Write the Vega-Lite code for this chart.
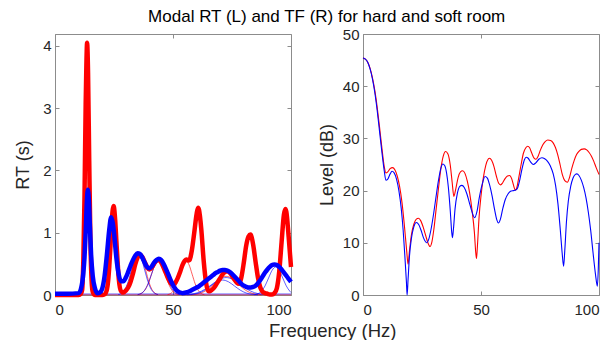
{
  "$schema": "https://vega.github.io/schema/vega-lite/v6.json",
  "background": "white",
  "padding": {"left": 13, "top": 7, "right": 0, "bottom": 0},
  "title": {"text": "Modal RT (L) and TF (R) for hard and soft room", "fontSize": 17, "fontWeight": "normal", "color": "#000000", "font": "Liberation Sans", "anchor": "middle", "offset": 1, "dx": 19},
  "datasets": {
    "thick": [
      {"x":0,"rt":0,"room":"hard"},{"x":5,"rt":0,"room":"hard"},{"x":10,"rt":0,"room":"hard"},{"x":11,"rt":0.02,"room":"hard"},{"x":11.5,"rt":0.08,"room":"hard"},{"x":12,"rt":0.55,"room":"hard"},{"x":12.5,"rt":1.57,"room":"hard"},{"x":13,"rt":3.06,"room":"hard"},{"x":13.3,"rt":3.7,"room":"hard"},{"x":13.6,"rt":4.05,"room":"hard"},{"x":14,"rt":3.57,"room":"hard"},{"x":14.5,"rt":2.15,"room":"hard"},{"x":15,"rt":0.88,"room":"hard"},{"x":15.5,"rt":0.24,"room":"hard"},{"x":16,"rt":0.05,"room":"hard"},{"x":17,"rt":0,"room":"hard"},{"x":18,"rt":0,"room":"hard"},{"x":19,"rt":0,"room":"hard"},{"x":20,"rt":0,"room":"hard"},{"x":21,"rt":0.01,"room":"hard"},{"x":22,"rt":0.09,"room":"hard"},{"x":22.5,"rt":0.22,"room":"hard"},{"x":23,"rt":0.46,"room":"hard"},{"x":23.5,"rt":0.79,"room":"hard"},{"x":24,"rt":1.15,"room":"hard"},{"x":24.8,"rt":1.43,"room":"hard"},{"x":25,"rt":1.41,"room":"hard"},{"x":25.5,"rt":1.2,"room":"hard"},{"x":26,"rt":0.87,"room":"hard"},{"x":26.5,"rt":0.55,"room":"hard"},{"x":27,"rt":0.27,"room":"hard"},{"x":28,"rt":0.06,"room":"hard"},{"x":29,"rt":0.04,"room":"hard"},{"x":30,"rt":0.07,"room":"hard"},{"x":31,"rt":0.12,"room":"hard"},{"x":32,"rt":0.21,"room":"hard"},{"x":33,"rt":0.34,"room":"hard"},{"x":34,"rt":0.49,"room":"hard"},{"x":35,"rt":0.6,"room":"hard"},{"x":36,"rt":0.645,"room":"hard"},{"x":37,"rt":0.61,"room":"hard"},{"x":38,"rt":0.53,"room":"hard"},{"x":39,"rt":0.45,"room":"hard"},{"x":40,"rt":0.41,"room":"hard"},{"x":41,"rt":0.44,"room":"hard"},{"x":42,"rt":0.5,"room":"hard"},{"x":43,"rt":0.55,"room":"hard"},{"x":44,"rt":0.56,"room":"hard"},{"x":45,"rt":0.52,"room":"hard"},{"x":46,"rt":0.44,"room":"hard"},{"x":47,"rt":0.35,"room":"hard"},{"x":48,"rt":0.26,"room":"hard"},{"x":49,"rt":0.19,"room":"hard"},{"x":50,"rt":0.17,"room":"hard"},{"x":51,"rt":0.2,"room":"hard"},{"x":52,"rt":0.27,"room":"hard"},{"x":53,"rt":0.37,"room":"hard"},{"x":54,"rt":0.48,"room":"hard"},{"x":55,"rt":0.55,"room":"hard"},{"x":55.7,"rt":0.57,"room":"hard"},{"x":56.5,"rt":0.555,"room":"hard"},{"x":57,"rt":0.56,"room":"hard"},{"x":57.5,"rt":0.62,"room":"hard"},{"x":58,"rt":0.72,"room":"hard"},{"x":59,"rt":1.0,"room":"hard"},{"x":60,"rt":1.3,"room":"hard"},{"x":60.6,"rt":1.4,"room":"hard"},{"x":61,"rt":1.37,"room":"hard"},{"x":62,"rt":1.05,"room":"hard"},{"x":63,"rt":0.55,"room":"hard"},{"x":64,"rt":0.2,"room":"hard"},{"x":65,"rt":0.06,"room":"hard"},{"x":66,"rt":0.07,"room":"hard"},{"x":67,"rt":0.1,"room":"hard"},{"x":68,"rt":0.15,"room":"hard"},{"x":69,"rt":0.21,"room":"hard"},{"x":70,"rt":0.27,"room":"hard"},{"x":71,"rt":0.33,"room":"hard"},{"x":72,"rt":0.37,"room":"hard"},{"x":73,"rt":0.38,"room":"hard"},{"x":74,"rt":0.36,"room":"hard"},{"x":75,"rt":0.31,"room":"hard"},{"x":76,"rt":0.25,"room":"hard"},{"x":77,"rt":0.2,"room":"hard"},{"x":78,"rt":0.18,"room":"hard"},{"x":79,"rt":0.29,"room":"hard"},{"x":80,"rt":0.52,"room":"hard"},{"x":81,"rt":0.79,"room":"hard"},{"x":82,"rt":0.94,"room":"hard"},{"x":82.8,"rt":0.97,"room":"hard"},{"x":83,"rt":0.965,"room":"hard"},{"x":84,"rt":0.8,"room":"hard"},{"x":85,"rt":0.53,"room":"hard"},{"x":86,"rt":0.28,"room":"hard"},{"x":87,"rt":0.12,"room":"hard"},{"x":88,"rt":0.05,"room":"hard"},{"x":89,"rt":0.03,"room":"hard"},{"x":90,"rt":0.02,"room":"hard"},{"x":91,"rt":0.01,"room":"hard"},{"x":92,"rt":0.01,"room":"hard"},{"x":93,"rt":0.03,"room":"hard"},{"x":94,"rt":0.11,"room":"hard"},{"x":95,"rt":0.37,"room":"hard"},{"x":96,"rt":0.84,"room":"hard"},{"x":97,"rt":1.29,"room":"hard"},{"x":97.6,"rt":1.38,"room":"hard"},{"x":98,"rt":1.34,"room":"hard"},{"x":99,"rt":0.94,"room":"hard"},{"x":100,"rt":0.45,"room":"hard"},
      {"x":0,"rt":0.02,"room":"soft"},{"x":5,"rt":0.02,"room":"soft"},{"x":10,"rt":0.03,"room":"soft"},{"x":11,"rt":0.1,"room":"soft"},{"x":12,"rt":0.35,"room":"soft"},{"x":12.5,"rt":0.6,"room":"soft"},{"x":13,"rt":1.0,"room":"soft"},{"x":13.5,"rt":1.5,"room":"soft"},{"x":13.9,"rt":1.69,"room":"soft"},{"x":14.3,"rt":1.55,"room":"soft"},{"x":14.8,"rt":1.1,"room":"soft"},{"x":15.3,"rt":0.65,"room":"soft"},{"x":16,"rt":0.3,"room":"soft"},{"x":17,"rt":0.1,"room":"soft"},{"x":18,"rt":0.03,"room":"soft"},{"x":19,"rt":0.04,"room":"soft"},{"x":20,"rt":0.1,"room":"soft"},{"x":21,"rt":0.3,"room":"soft"},{"x":22,"rt":0.65,"room":"soft"},{"x":23,"rt":1.05,"room":"soft"},{"x":23.8,"rt":1.25,"room":"soft"},{"x":24.5,"rt":1.15,"room":"soft"},{"x":25,"rt":1.0,"room":"soft"},{"x":26,"rt":0.6,"room":"soft"},{"x":27,"rt":0.33,"room":"soft"},{"x":28,"rt":0.22,"room":"soft"},{"x":29,"rt":0.22,"room":"soft"},{"x":30,"rt":0.28,"room":"soft"},{"x":31,"rt":0.37,"room":"soft"},{"x":32,"rt":0.47,"room":"soft"},{"x":33,"rt":0.56,"room":"soft"},{"x":34,"rt":0.63,"room":"soft"},{"x":35,"rt":0.67,"room":"soft"},{"x":36,"rt":0.66,"room":"soft"},{"x":37,"rt":0.6,"room":"soft"},{"x":38,"rt":0.52,"room":"soft"},{"x":39,"rt":0.45,"room":"soft"},{"x":40,"rt":0.43,"room":"soft"},{"x":41,"rt":0.46,"room":"soft"},{"x":42,"rt":0.52,"room":"soft"},{"x":43,"rt":0.56,"room":"soft"},{"x":44,"rt":0.58,"room":"soft"},{"x":45,"rt":0.56,"room":"soft"},{"x":46,"rt":0.5,"room":"soft"},{"x":47,"rt":0.42,"room":"soft"},{"x":48,"rt":0.33,"room":"soft"},{"x":49,"rt":0.24,"room":"soft"},{"x":50,"rt":0.16,"room":"soft"},{"x":51,"rt":0.1,"room":"soft"},{"x":52,"rt":0.06,"room":"soft"},{"x":53,"rt":0.04,"room":"soft"},{"x":54,"rt":0.03,"room":"soft"},{"x":55,"rt":0.035,"room":"soft"},{"x":56,"rt":0.045,"room":"soft"},{"x":57,"rt":0.06,"room":"soft"},{"x":58,"rt":0.08,"room":"soft"},{"x":59,"rt":0.1,"room":"soft"},{"x":60,"rt":0.12,"room":"soft"},{"x":61,"rt":0.14,"room":"soft"},{"x":62,"rt":0.17,"room":"soft"},{"x":63,"rt":0.2,"room":"soft"},{"x":64,"rt":0.23,"room":"soft"},{"x":65,"rt":0.26,"room":"soft"},{"x":66,"rt":0.29,"room":"soft"},{"x":67,"rt":0.32,"room":"soft"},{"x":68,"rt":0.35,"room":"soft"},{"x":69,"rt":0.37,"room":"soft"},{"x":70,"rt":0.39,"room":"soft"},{"x":71,"rt":0.4,"room":"soft"},{"x":72,"rt":0.4,"room":"soft"},{"x":73,"rt":0.39,"room":"soft"},{"x":74,"rt":0.37,"room":"soft"},{"x":75,"rt":0.34,"room":"soft"},{"x":76,"rt":0.3,"room":"soft"},{"x":77,"rt":0.26,"room":"soft"},{"x":78,"rt":0.22,"room":"soft"},{"x":79,"rt":0.18,"room":"soft"},{"x":80,"rt":0.15,"room":"soft"},{"x":81,"rt":0.13,"room":"soft"},{"x":82,"rt":0.12,"room":"soft"},{"x":83,"rt":0.12,"room":"soft"},{"x":84,"rt":0.13,"room":"soft"},{"x":85,"rt":0.15,"room":"soft"},{"x":86,"rt":0.19,"room":"soft"},{"x":87,"rt":0.24,"room":"soft"},{"x":88,"rt":0.3,"room":"soft"},{"x":89,"rt":0.36,"room":"soft"},{"x":90,"rt":0.41,"room":"soft"},{"x":91,"rt":0.45,"room":"soft"},{"x":92,"rt":0.48,"room":"soft"},{"x":93,"rt":0.49,"room":"soft"},{"x":94,"rt":0.48,"room":"soft"},{"x":95,"rt":0.45,"room":"soft"},{"x":96,"rt":0.41,"room":"soft"},{"x":97,"rt":0.36,"room":"soft"},{"x":98,"rt":0.31,"room":"soft"},{"x":99,"rt":0.26,"room":"soft"},{"x":100,"rt":0.21,"room":"soft"}
    ],
    "thin": [
      {"x":0,"rt":0.004,"room":"hard","mode":"h0"},{"x":100,"rt":0.004,"room":"hard","mode":"h0"},
      {"x":0,"rt":0.016,"room":"soft","mode":"s0"},{"x":100,"rt":0.016,"room":"soft","mode":"s0"},
      {"x":28.1,"rt":0.007,"room":"hard","mode":"h3"},{"x":29.4,"rt":0.028,"room":"hard","mode":"h3"},{"x":30.7,"rt":0.087,"room":"hard","mode":"h3"},{"x":32.0,"rt":0.208,"room":"hard","mode":"h3"},{"x":33.3,"rt":0.388,"room":"hard","mode":"h3"},{"x":34.6,"rt":0.565,"room":"hard","mode":"h3"},{"x":35.9,"rt":0.64,"room":"hard","mode":"h3"},{"x":37.2,"rt":0.565,"room":"hard","mode":"h3"},{"x":38.5,"rt":0.388,"room":"hard","mode":"h3"},{"x":39.8,"rt":0.208,"room":"hard","mode":"h3"},{"x":41.1,"rt":0.087,"room":"hard","mode":"h3"},{"x":42.4,"rt":0.028,"room":"hard","mode":"h3"},{"x":43.7,"rt":0.007,"room":"hard","mode":"h3"},
      {"x":35.1,"rt":0.006,"room":"hard","mode":"h4"},{"x":36.55,"rt":0.024,"room":"hard","mode":"h4"},{"x":38.0,"rt":0.074,"room":"hard","mode":"h4"},{"x":39.45,"rt":0.179,"room":"hard","mode":"h4"},{"x":40.9,"rt":0.334,"room":"hard","mode":"h4"},{"x":42.35,"rt":0.485,"room":"hard","mode":"h4"},{"x":43.8,"rt":0.55,"room":"hard","mode":"h4"},{"x":45.25,"rt":0.485,"room":"hard","mode":"h4"},{"x":46.7,"rt":0.334,"room":"hard","mode":"h4"},{"x":48.15,"rt":0.179,"room":"hard","mode":"h4"},{"x":49.6,"rt":0.074,"room":"hard","mode":"h4"},{"x":51.05,"rt":0.024,"room":"hard","mode":"h4"},{"x":52.5,"rt":0.006,"room":"hard","mode":"h4"},
      {"x":47.7,"rt":0.006,"room":"hard","mode":"h5"},{"x":49.0,"rt":0.024,"room":"hard","mode":"h5"},{"x":50.3,"rt":0.074,"room":"hard","mode":"h5"},{"x":51.6,"rt":0.179,"room":"hard","mode":"h5"},{"x":52.9,"rt":0.334,"room":"hard","mode":"h5"},{"x":54.2,"rt":0.485,"room":"hard","mode":"h5"},{"x":55.5,"rt":0.55,"room":"hard","mode":"h5"},{"x":56.8,"rt":0.485,"room":"hard","mode":"h5"},{"x":58.1,"rt":0.334,"room":"hard","mode":"h5"},{"x":59.4,"rt":0.179,"room":"hard","mode":"h5"},{"x":60.7,"rt":0.074,"room":"hard","mode":"h5"},{"x":62.0,"rt":0.024,"room":"hard","mode":"h5"},{"x":63.3,"rt":0.006,"room":"hard","mode":"h5"},
      {"x":57.5,"rt":0.003,"room":"hard","mode":"h7"},{"x":60,"rt":0.013,"room":"hard","mode":"h7"},{"x":62.5,"rt":0.041,"room":"hard","mode":"h7"},{"x":65,"rt":0.097,"room":"hard","mode":"h7"},{"x":67.5,"rt":0.182,"room":"hard","mode":"h7"},{"x":70,"rt":0.265,"room":"hard","mode":"h7"},{"x":72.5,"rt":0.3,"room":"hard","mode":"h7"},{"x":75,"rt":0.265,"room":"hard","mode":"h7"},{"x":77.5,"rt":0.182,"room":"hard","mode":"h7"},{"x":80,"rt":0.097,"room":"hard","mode":"h7"},{"x":82.5,"rt":0.041,"room":"hard","mode":"h7"},{"x":85,"rt":0.013,"room":"hard","mode":"h7"},{"x":87.5,"rt":0.003,"room":"hard","mode":"h7"},
      {"x":26.8,"rt":0.007,"room":"soft","mode":"s3"},{"x":28.2,"rt":0.029,"room":"soft","mode":"s3"},{"x":29.6,"rt":0.089,"room":"soft","mode":"s3"},{"x":31.0,"rt":0.214,"room":"soft","mode":"s3"},{"x":32.4,"rt":0.4,"room":"soft","mode":"s3"},{"x":33.8,"rt":0.582,"room":"soft","mode":"s3"},{"x":35.2,"rt":0.66,"room":"soft","mode":"s3"},{"x":36.6,"rt":0.582,"room":"soft","mode":"s3"},{"x":38.0,"rt":0.4,"room":"soft","mode":"s3"},{"x":39.4,"rt":0.214,"room":"soft","mode":"s3"},{"x":40.8,"rt":0.089,"room":"soft","mode":"s3"},{"x":42.2,"rt":0.029,"room":"soft","mode":"s3"},{"x":43.6,"rt":0.007,"room":"soft","mode":"s3"},
      {"x":35,"rt":0.006,"room":"soft","mode":"s4"},{"x":36.5,"rt":0.025,"room":"soft","mode":"s4"},{"x":38,"rt":0.077,"room":"soft","mode":"s4"},{"x":39.5,"rt":0.185,"room":"soft","mode":"s4"},{"x":41,"rt":0.346,"room":"soft","mode":"s4"},{"x":42.5,"rt":0.503,"room":"soft","mode":"s4"},{"x":44,"rt":0.57,"room":"soft","mode":"s4"},{"x":45.5,"rt":0.503,"room":"soft","mode":"s4"},{"x":47,"rt":0.346,"room":"soft","mode":"s4"},{"x":48.5,"rt":0.185,"room":"soft","mode":"s4"},{"x":50,"rt":0.077,"room":"soft","mode":"s4"},{"x":51.5,"rt":0.025,"room":"soft","mode":"s4"},{"x":53,"rt":0.006,"room":"soft","mode":"s4"},
      {"x":54.5,"rt":0.003,"room":"soft","mode":"s5a"},{"x":57.5,"rt":0.012,"room":"soft","mode":"s5a"},{"x":60.5,"rt":0.038,"room":"soft","mode":"s5a"},{"x":63.5,"rt":0.091,"room":"soft","mode":"s5a"},{"x":66.5,"rt":0.17,"room":"soft","mode":"s5a"},{"x":69.5,"rt":0.247,"room":"soft","mode":"s5a"},{"x":72.5,"rt":0.28,"room":"soft","mode":"s5a"},{"x":75.5,"rt":0.247,"room":"soft","mode":"s5a"},{"x":78.5,"rt":0.17,"room":"soft","mode":"s5a"},{"x":81.5,"rt":0.091,"room":"soft","mode":"s5a"},{"x":84.5,"rt":0.038,"room":"soft","mode":"s5a"},{"x":87.5,"rt":0.012,"room":"soft","mode":"s5a"},{"x":90.5,"rt":0.003,"room":"soft","mode":"s5a"},
      {"x":56,"rt":0.003,"room":"soft","mode":"s5b"},{"x":58.5,"rt":0.011,"room":"soft","mode":"s5b"},{"x":61,"rt":0.032,"room":"soft","mode":"s5b"},{"x":63.5,"rt":0.078,"room":"soft","mode":"s5b"},{"x":66,"rt":0.146,"room":"soft","mode":"s5b"},{"x":68.5,"rt":0.212,"room":"soft","mode":"s5b"},{"x":71,"rt":0.24,"room":"soft","mode":"s5b"},{"x":73.5,"rt":0.212,"room":"soft","mode":"s5b"},{"x":76,"rt":0.146,"room":"soft","mode":"s5b"},{"x":78.5,"rt":0.078,"room":"soft","mode":"s5b"},{"x":81,"rt":0.032,"room":"soft","mode":"s5b"},{"x":83.5,"rt":0.011,"room":"soft","mode":"s5b"},{"x":86,"rt":0.003,"room":"soft","mode":"s5b"},
      {"x":84.5,"rt":0.005,"room":"soft","mode":"s6"},{"x":86,"rt":0.02,"room":"soft","mode":"s6"},{"x":87.5,"rt":0.061,"room":"soft","mode":"s6"},{"x":89,"rt":0.146,"room":"soft","mode":"s6"},{"x":90.5,"rt":0.273,"room":"soft","mode":"s6"},{"x":92,"rt":0.397,"room":"soft","mode":"s6"},{"x":93.5,"rt":0.45,"room":"soft","mode":"s6"},{"x":95,"rt":0.397,"room":"soft","mode":"s6"},{"x":96.5,"rt":0.273,"room":"soft","mode":"s6"},{"x":98,"rt":0.146,"room":"soft","mode":"s6"},{"x":99.5,"rt":0.061,"room":"soft","mode":"s6"},{"x":100,"rt":0.04,"room":"soft","mode":"s6"}
    ],
    "tf": [
      {"x":0,"level":45.4,"room":"hard"},{"x":1,"level":45.2,"room":"hard"},{"x":2,"level":44.6,"room":"hard"},{"x":3,"level":43.4,"room":"hard"},{"x":4,"level":41.6,"room":"hard"},{"x":5,"level":39.2,"room":"hard"},{"x":6,"level":36.0,"room":"hard"},{"x":7,"level":32.2,"room":"hard"},{"x":8,"level":28.2,"room":"hard"},{"x":9,"level":24.6,"room":"hard"},{"x":9.7,"level":23.4,"room":"hard"},{"x":10.5,"level":23.6,"room":"hard"},{"x":11.5,"level":24.2,"room":"hard"},{"x":12.5,"level":24.4,"room":"hard"},{"x":13.5,"level":24.0,"room":"hard"},{"x":14.5,"level":22.8,"room":"hard"},{"x":15.5,"level":20.8,"room":"hard"},{"x":16.5,"level":17.8,"room":"hard"},{"x":17.5,"level":13.5,"room":"hard"},{"x":18.5,"level":8.5,"room":"hard"},{"x":19.1,"level":5.9,"room":"hard"},{"x":19.7,"level":8.5,"room":"hard"},{"x":20.5,"level":11.5,"room":"hard"},{"x":21.5,"level":13.5,"room":"hard"},{"x":22.5,"level":14.5,"room":"hard"},{"x":23.5,"level":14.7,"room":"hard"},{"x":24.5,"level":14.2,"room":"hard"},{"x":25.5,"level":13.0,"room":"hard"},{"x":26.5,"level":11.5,"room":"hard"},{"x":27.5,"level":10.0,"room":"hard"},{"x":28.4,"level":9.3,"room":"hard"},{"x":29.2,"level":10.2,"room":"hard"},{"x":30,"level":12.5,"room":"hard"},{"x":31,"level":16.5,"room":"hard"},{"x":32,"level":20.5,"room":"hard"},{"x":33,"level":24.2,"room":"hard"},{"x":34,"level":26.6,"room":"hard"},{"x":35,"level":27.5,"room":"hard"},{"x":36,"level":27.0,"room":"hard"},{"x":37,"level":24.8,"room":"hard"},{"x":37.8,"level":21.5,"room":"hard"},{"x":38.5,"level":18.9,"room":"hard"},{"x":39.3,"level":20.3,"room":"hard"},{"x":40.3,"level":22.5,"room":"hard"},{"x":41.3,"level":23.6,"room":"hard"},{"x":42.2,"level":23.8,"room":"hard"},{"x":43.2,"level":23.3,"room":"hard"},{"x":44.2,"level":21.8,"room":"hard"},{"x":45.2,"level":19.5,"room":"hard"},{"x":46.2,"level":16.2,"room":"hard"},{"x":47.2,"level":12.0,"room":"hard"},{"x":47.8,"level":8.0,"room":"hard"},{"x":48.1,"level":7.0,"room":"hard"},{"x":48.5,"level":9.5,"room":"hard"},{"x":49.2,"level":15.0,"room":"hard"},{"x":50,"level":19.0,"room":"hard"},{"x":51,"level":22.5,"room":"hard"},{"x":52,"level":24.8,"room":"hard"},{"x":53,"level":26.0,"room":"hard"},{"x":53.6,"level":26.2,"room":"hard"},{"x":54.5,"level":25.8,"room":"hard"},{"x":55.5,"level":24.6,"room":"hard"},{"x":56.5,"level":22.8,"room":"hard"},{"x":57.5,"level":21.4,"room":"hard"},{"x":58.3,"level":21.1,"room":"hard"},{"x":59.2,"level":21.5,"room":"hard"},{"x":60.2,"level":22.3,"room":"hard"},{"x":61.2,"level":22.8,"room":"hard"},{"x":62.1,"level":22.9,"room":"hard"},{"x":63.0,"level":22.3,"room":"hard"},{"x":63.8,"level":21.0,"room":"hard"},{"x":64.5,"level":20.1,"room":"hard"},{"x":65.2,"level":20.6,"room":"hard"},{"x":66,"level":22.5,"room":"hard"},{"x":67,"level":25.0,"room":"hard"},{"x":68,"level":27.2,"room":"hard"},{"x":69,"level":28.2,"room":"hard"},{"x":69.8,"level":28.5,"room":"hard"},{"x":70.6,"level":28.2,"room":"hard"},{"x":71.5,"level":27.2,"room":"hard"},{"x":72.5,"level":26.2,"room":"hard"},{"x":73.3,"level":26.0,"room":"hard"},{"x":74.2,"level":26.6,"room":"hard"},{"x":75.2,"level":27.8,"room":"hard"},{"x":76.2,"level":28.8,"room":"hard"},{"x":77.2,"level":29.4,"room":"hard"},{"x":78.3,"level":29.7,"room":"hard"},{"x":79.5,"level":29.6,"room":"hard"},{"x":80.5,"level":29.2,"room":"hard"},{"x":81.5,"level":28.3,"room":"hard"},{"x":82.5,"level":26.9,"room":"hard"},{"x":83.5,"level":25.0,"room":"hard"},{"x":84.5,"level":23.0,"room":"hard"},{"x":85.5,"level":21.9,"room":"hard"},{"x":86.6,"level":21.6,"room":"hard"},{"x":87.5,"level":22.5,"room":"hard"},{"x":88.5,"level":24.3,"room":"hard"},{"x":89.5,"level":25.8,"room":"hard"},{"x":90.5,"level":26.9,"room":"hard"},{"x":91.5,"level":27.5,"room":"hard"},{"x":92.5,"level":27.9,"room":"hard"},{"x":93.7,"level":28.0,"room":"hard"},{"x":94.8,"level":27.8,"room":"hard"},{"x":95.8,"level":27.3,"room":"hard"},{"x":96.8,"level":26.6,"room":"hard"},{"x":97.8,"level":25.6,"room":"hard"},{"x":98.8,"level":24.4,"room":"hard"},{"x":100,"level":23.1,"room":"hard"},
      {"x":0,"level":45.4,"room":"soft"},{"x":1,"level":45.2,"room":"soft"},{"x":2,"level":44.6,"room":"soft"},{"x":3,"level":43.3,"room":"soft"},{"x":4,"level":41.4,"room":"soft"},{"x":5,"level":38.8,"room":"soft"},{"x":6,"level":35.4,"room":"soft"},{"x":7,"level":31.4,"room":"soft"},{"x":8,"level":27.4,"room":"soft"},{"x":9,"level":23.8,"room":"soft"},{"x":9.7,"level":22.0,"room":"soft"},{"x":10.5,"level":22.2,"room":"soft"},{"x":11.5,"level":23.2,"room":"soft"},{"x":12.3,"level":23.7,"room":"soft"},{"x":13.2,"level":23.4,"room":"soft"},{"x":14.2,"level":22.2,"room":"soft"},{"x":15.2,"level":20.0,"room":"soft"},{"x":16.2,"level":16.6,"room":"soft"},{"x":17.0,"level":12.5,"room":"soft"},{"x":17.8,"level":7.0,"room":"soft"},{"x":18.4,"level":2.5,"room":"soft"},{"x":18.7,"level":0.0,"room":"soft"},{"x":19.1,"level":3.0,"room":"soft"},{"x":19.7,"level":7.5,"room":"soft"},{"x":20.5,"level":10.8,"room":"soft"},{"x":21.5,"level":13.0,"room":"soft"},{"x":22.6,"level":13.9,"room":"soft"},{"x":23.6,"level":13.5,"room":"soft"},{"x":24.6,"level":12.4,"room":"soft"},{"x":25.6,"level":11.0,"room":"soft"},{"x":26.5,"level":10.2,"room":"soft"},{"x":27.1,"level":10.0,"room":"soft"},{"x":27.8,"level":10.6,"room":"soft"},{"x":28.8,"level":12.5,"room":"soft"},{"x":30,"level":15.8,"room":"soft"},{"x":31,"level":19.0,"room":"soft"},{"x":32,"level":22.0,"room":"soft"},{"x":33,"level":24.3,"room":"soft"},{"x":33.8,"level":25.1,"room":"soft"},{"x":34.6,"level":24.8,"room":"soft"},{"x":35.4,"level":23.4,"room":"soft"},{"x":36.2,"level":20.5,"room":"soft"},{"x":37,"level":16.0,"room":"soft"},{"x":37.6,"level":12.0,"room":"soft"},{"x":37.9,"level":11.0,"room":"soft"},{"x":38.3,"level":12.5,"room":"soft"},{"x":39,"level":16.5,"room":"soft"},{"x":40,"level":19.5,"room":"soft"},{"x":41,"level":20.8,"room":"soft"},{"x":41.9,"level":21.0,"room":"soft"},{"x":42.9,"level":20.6,"room":"soft"},{"x":44,"level":19.4,"room":"soft"},{"x":45,"level":17.8,"room":"soft"},{"x":46,"level":16.2,"room":"soft"},{"x":47.3,"level":14.8,"room":"soft"},{"x":48.3,"level":16.0,"room":"soft"},{"x":49.3,"level":18.7,"room":"soft"},{"x":50.5,"level":21.2,"room":"soft"},{"x":51.7,"level":22.7,"room":"soft"},{"x":52.7,"level":22.4,"room":"soft"},{"x":53.7,"level":21.0,"room":"soft"},{"x":54.7,"level":19.0,"room":"soft"},{"x":55.7,"level":16.5,"room":"soft"},{"x":56.7,"level":14.4,"room":"soft"},{"x":57.4,"level":13.8,"room":"soft"},{"x":58.2,"level":14.5,"room":"soft"},{"x":59.2,"level":16.5,"room":"soft"},{"x":60.3,"level":18.3,"room":"soft"},{"x":61.5,"level":19.4,"room":"soft"},{"x":62.7,"level":19.9,"room":"soft"},{"x":63.7,"level":20.0,"room":"soft"},{"x":64.7,"level":20.1,"room":"soft"},{"x":65.5,"level":20.5,"room":"soft"},{"x":66.5,"level":22.2,"room":"soft"},{"x":67.5,"level":24.4,"room":"soft"},{"x":68.4,"level":25.9,"room":"soft"},{"x":69.1,"level":26.4,"room":"soft"},{"x":70,"level":26.2,"room":"soft"},{"x":71,"level":25.5,"room":"soft"},{"x":72.2,"level":25.0,"room":"soft"},{"x":73.2,"level":25.3,"room":"soft"},{"x":74.5,"level":26.0,"room":"soft"},{"x":75.8,"level":26.3,"room":"soft"},{"x":77,"level":26.1,"room":"soft"},{"x":78.2,"level":25.6,"room":"soft"},{"x":79.4,"level":24.7,"room":"soft"},{"x":80.6,"level":23.2,"room":"soft"},{"x":81.6,"level":21.0,"room":"soft"},{"x":82.6,"level":17.5,"room":"soft"},{"x":83.6,"level":12.5,"room":"soft"},{"x":84.4,"level":8.0,"room":"soft"},{"x":85.0,"level":5.5,"room":"soft"},{"x":85.5,"level":8.5,"room":"soft"},{"x":86.2,"level":14.0,"room":"soft"},{"x":87,"level":18.0,"room":"soft"},{"x":88,"level":20.8,"room":"soft"},{"x":89,"level":22.4,"room":"soft"},{"x":90,"level":23.1,"room":"soft"},{"x":90.6,"level":23.2,"room":"soft"},{"x":91.5,"level":22.9,"room":"soft"},{"x":92.5,"level":22.0,"room":"soft"},{"x":93.5,"level":20.6,"room":"soft"},{"x":94.5,"level":18.6,"room":"soft"},{"x":95.5,"level":15.8,"room":"soft"},{"x":96.5,"level":12.3,"room":"soft"},{"x":97.5,"level":8.0,"room":"soft"},{"x":98.5,"level":4.0,"room":"soft"},{"x":99.3,"level":1.7,"room":"soft"},{"x":99.7,"level":5.0,"room":"soft"},{"x":100,"level":10.0,"room":"soft"}
    ]
  },
  "vconcat": [
    {
      "title": {"text": "Frequency (Hz)", "orient": "bottom", "fontSize": 18.5, "fontWeight": "normal", "color": "#262626", "font": "Liberation Sans", "anchor": "middle", "offset": 4, "dx": 25},
      "spacing": 24,
      "hconcat": [
        {
          "width": 236,
          "height": 261,
          "layer": [
            {
              "data": {"name": "thin"},
              "mark": {"type": "line", "strokeWidth": 0.9, "opacity": 0.7, "interpolate": "monotone"},
              "encoding": {
                "x": {"field": "x", "type": "quantitative", "scale": {"domain": [0, 100], "nice": false}, "axis": {"orient": "bottom", "values": [0, 50, 100], "title": null}},
                "y": {"field": "rt", "type": "quantitative", "scale": {"domain": [0, 4.19], "nice": false}, "axis": {"orient": "left", "values": [0, 1, 2, 3, 4], "title": "RT (s)", "titlePadding": 10.5}},
                "color": {"field": "room", "type": "nominal", "scale": {"domain": ["hard", "soft"], "range": ["#ff0000", "#0000ff"]}, "legend": null},
                "detail": {"field": "mode", "type": "nominal"}
              }
            },
            {
              "data": {"name": "thick"},
              "transform": [{"filter": "datum.room === 'hard'"}],
              "mark": {"type": "line", "strokeWidth": 4.5, "interpolate": "monotone", "strokeJoin": "round"},
              "encoding": {
                "x": {"field": "x", "type": "quantitative", "axis": null},
                "y": {"field": "rt", "type": "quantitative", "axis": null},
                "color": {"field": "room", "type": "nominal", "legend": null}
              }
            },
            {
              "data": {"name": "thick"},
              "transform": [{"filter": "datum.room === 'soft'"}],
              "mark": {"type": "line", "strokeWidth": 4.5, "interpolate": "monotone", "strokeJoin": "round"},
              "encoding": {
                "x": {"field": "x", "type": "quantitative", "axis": null},
                "y": {"field": "rt", "type": "quantitative", "axis": null},
                "color": {"field": "room", "type": "nominal", "legend": null}
              }
            },
            {
              "data": {"name": "thin"},
              "mark": {"type": "line", "opacity": 0},
              "encoding": {
                "x": {"field": "x", "type": "quantitative", "axis": {"orient": "top", "values": [0, 50, 100], "labels": false, "title": null, "domain": false}},
                "y": {"field": "rt", "type": "quantitative", "axis": {"orient": "right", "values": [0, 1, 2, 3, 4], "labels": false, "title": null, "domain": false}},
                "detail": {"field": "mode", "type": "nominal"}
              }
            }
          ],
          "resolve": {"axis": {"x": "independent", "y": "independent"}}
        },
        {
          "width": 236,
          "height": 261,
          "layer": [
            {
              "data": {"name": "tf"},
              "transform": [{"filter": "datum.room === 'hard'"}],
              "mark": {"type": "line", "strokeWidth": 1.1, "interpolate": "monotone"},
              "encoding": {
                "x": {"field": "x", "type": "quantitative", "scale": {"domain": [0, 100], "nice": false}, "axis": {"orient": "bottom", "values": [0, 50, 100], "title": null}},
                "y": {"field": "level", "type": "quantitative", "scale": {"domain": [0, 50], "nice": false}, "axis": {"orient": "left", "values": [0, 10, 20, 30, 40, 50], "title": "Level (dB)", "titlePadding": 5.5}},
                "color": {"field": "room", "type": "nominal", "scale": {"domain": ["hard", "soft"], "range": ["#ff0000", "#0000ff"]}, "legend": null}
              }
            },
            {
              "data": {"name": "tf"},
              "transform": [{"filter": "datum.room === 'soft'"}],
              "mark": {"type": "line", "strokeWidth": 1.1, "interpolate": "monotone"},
              "encoding": {
                "x": {"field": "x", "type": "quantitative", "axis": null},
                "y": {"field": "level", "type": "quantitative", "axis": null},
                "color": {"field": "room", "type": "nominal", "legend": null}
              }
            },
            {
              "data": {"name": "tf"},
              "mark": {"type": "line", "opacity": 0},
              "encoding": {
                "x": {"field": "x", "type": "quantitative", "axis": {"orient": "top", "values": [0, 50, 100], "labels": false, "title": null, "domain": false}},
                "y": {"field": "level", "type": "quantitative", "axis": {"orient": "right", "values": [0, 10, 20, 30, 40, 50], "labels": false, "title": null, "domain": false}},
                "detail": {"field": "room", "type": "nominal"}
              }
            }
          ],
          "resolve": {"axis": {"x": "independent", "y": "independent"}}
        }
      ]
    }
  ],
  "config": {
    "font": "Liberation Sans",
    "view": {"stroke": "#8c8c8c", "strokeWidth": 1},
    "axis": {
      "grid": false,
      "domainColor": "#8c8c8c",
      "tickColor": "#8c8c8c",
      "tickSize": -4,
      "labelColor": "#262626",
      "labelFontSize": 15,
      "titleFontSize": 18,
      "titleFontWeight": "normal",
      "titleColor": "#262626",
      "titlePadding": 6
    },
    "axisX": {"labelPadding": 11},
    "axisY": {"labelPadding": 8}
  }
}
